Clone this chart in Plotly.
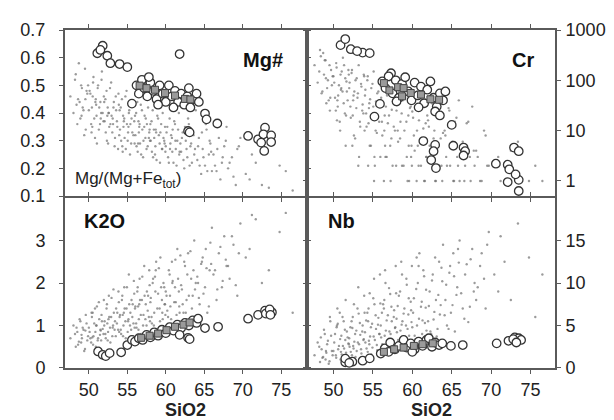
import plotly.graph_objects as go

# ---------------- background data, set 1 (SiO2 shared, one value list per element) ----
bg_sio2 = [48.2, 48.6, 48.9, 49.1, 49.3, 49.5, 49.6, 49.8, 48.4, 49.9,
           50.1, 50.3, 50.4, 50.6, 50.8, 50.9, 51.0, 51.2, 51.3, 51.5, 51.6, 51.7, 51.9, 50.5,
           52.0, 52.2, 52.3, 52.5, 52.6, 52.8, 52.9, 53.1, 53.2, 53.4, 53.5, 53.7, 53.8, 53.9, 52.4,
           54.0, 54.2, 54.3, 54.5, 54.6, 54.8, 54.9, 55.1, 55.2, 55.4, 55.5, 55.7, 55.8, 55.9, 54.4,
           56.0, 56.2, 56.3, 56.5, 56.6, 56.8, 56.9, 57.1, 57.2, 57.4, 57.5, 57.7, 57.8, 57.9, 56.4,
           58.0, 58.2, 58.3, 58.5, 58.7, 58.8, 59.0, 59.2, 59.3, 59.5, 59.6, 59.8, 59.9, 58.6,
           60.1, 60.3, 60.5, 60.6, 60.8, 61.0, 61.2, 61.3, 61.5, 61.7, 61.8, 60.9,
           62.1, 62.3, 62.5, 62.7, 62.9, 63.1, 63.3, 63.5, 63.7, 63.9,
           64.2, 64.4, 64.7, 64.9, 65.2, 65.4, 65.7, 65.9,
           66.2, 66.6, 66.9, 67.3, 67.6, 67.9,
           68.3, 68.8, 69.3, 69.7,
           70.4, 71.2, 72.5, 74.8]

bg_mg = [0.52, 0.45, 0.38, 0.49, 0.41, 0.56, 0.34, 0.47, 0.43, 0.50,
         0.48, 0.36, 0.42, 0.53, 0.31, 0.45, 0.39, 0.50, 0.34, 0.44, 0.40, 0.55, 0.37, 0.46,
         0.44, 0.33, 0.48, 0.29, 0.40, 0.36, 0.51, 0.38, 0.42, 0.31, 0.46, 0.35, 0.27, 0.43, 0.39,
         0.41, 0.30, 0.45, 0.35, 0.38, 0.27, 0.48, 0.33, 0.40, 0.36, 0.29, 0.43, 0.32, 0.37, 0.26,
         0.39, 0.28, 0.44, 0.33, 0.36, 0.25, 0.41, 0.30, 0.35, 0.38, 0.27, 0.42, 0.31, 0.34, 0.29,
         0.36, 0.26, 0.41, 0.31, 0.34, 0.23, 0.38, 0.29, 0.33, 0.27, 0.40, 0.30, 0.35, 0.25,
         0.33, 0.24, 0.38, 0.29, 0.31, 0.22, 0.36, 0.27, 0.30, 0.40, 0.26, 0.34,
         0.31, 0.23, 0.35, 0.27, 0.38, 0.21, 0.29, 0.33, 0.25, 0.41,
         0.28, 0.21, 0.33, 0.24, 0.36, 0.19, 0.30, 0.26,
         0.25, 0.19, 0.31, 0.22, 0.28, 0.35,
         0.22, 0.17, 0.27, 0.31,
         0.18, 0.25, 0.14, 0.21]

bg_cr = [150, 60, 250, 35, 100, 200, 45, 80, 300, 120,
         90, 25, 180, 50, 15, 130, 70, 280, 35, 110, 20, 60, 160, 40,
         70, 18, 140, 40, 8, 100, 28, 55, 200, 12, 85, 33, 22, 120, 5,
         50, 12, 100, 28, 5, 70, 20, 150, 3, 38, 9, 60, 15, 85, 2,
         35, 8, 80, 20, 3, 50, 14, 100, 5, 26, 2, 42, 10, 60, 1,
         25, 6, 60, 15, 2, 40, 10, 80, 3, 20, 1, 30, 5, 45,
         18, 4, 45, 10, 2, 30, 7, 70, 1, 14, 3, 25,
         12, 3, 35, 7, 1, 20, 5, 60, 2, 9,
         8, 2, 25, 5, 1, 15, 3, 40,
         5, 1, 14, 3, 30, 2,
         3, 1, 8, 2,
         2, 1, 4, 1]

bg_k2o = [0.80, 0.55, 1.10, 0.70, 0.90, 0.45, 1.25, 0.65, 0.95, 0.75,
          0.85, 0.60, 1.20, 0.75, 1.40, 0.50, 1.00, 0.70, 1.55, 0.90, 0.65, 1.10, 0.80, 1.30,
          1.00, 0.70, 1.40, 0.85, 1.70, 0.60, 1.20, 0.95, 1.85, 1.10, 0.75, 1.30, 0.90, 1.55, 1.05,
          1.20, 0.80, 1.60, 1.00, 1.90, 0.70, 1.40, 1.10, 2.20, 1.30, 0.90, 1.50, 1.05, 1.75, 1.25,
          1.40, 0.95, 1.80, 1.15, 2.10, 0.80, 1.60, 1.25, 2.40, 1.50, 1.00, 1.70, 1.20, 1.95, 1.45,
          1.55, 1.05, 2.00, 1.30, 2.30, 0.90, 1.75, 1.40, 2.60, 1.60, 1.15, 1.90, 1.50, 2.15,
          1.70, 1.20, 2.20, 1.45, 2.50, 1.00, 1.90, 1.55, 2.80, 1.80, 1.30, 2.05,
          1.85, 1.30, 2.40, 1.60, 2.70, 1.10, 2.10, 1.70, 3.00, 2.00,
          2.00, 1.50, 2.50, 1.75, 2.80, 1.30, 2.30, 2.45,
          2.20, 1.60, 2.70, 1.90, 3.10, 2.40,
          2.10, 2.90, 1.70, 3.40,
          2.60, 3.60, 2.00, 3.20]

bg_nb = [2.5, 1.2, 4.0, 1.8, 3.2, 0.8, 5.5, 2.0, 3.6, 1.5,
         3.0, 1.5, 4.8, 2.2, 6.5, 1.0, 3.8, 2.6, 5.5, 3.3, 1.8, 4.3, 2.9, 7.0,
         3.5, 1.9, 5.5, 2.6, 7.5, 1.3, 4.4, 3.0, 6.4, 3.9, 2.2, 5.0, 3.3, 8.5, 4.7,
         4.2, 2.3, 6.5, 3.2, 8.8, 1.6, 5.2, 3.7, 7.5, 4.6, 2.7, 5.9, 4.0, 11.0, 5.5,
         5.0, 2.8, 7.5, 3.8, 10.0, 2.1, 6.2, 4.3, 8.7, 5.5, 3.2, 6.8, 4.7, 12.0, 7.0,
         5.8, 3.3, 8.5, 4.4, 11.0, 2.6, 7.0, 5.0, 9.8, 6.3, 3.8, 7.8, 5.4, 12.5,
         6.5, 3.8, 9.3, 5.0, 12.0, 3.1, 7.8, 5.6, 10.8, 7.1, 4.4, 13.5,
         7.3, 4.3, 10.3, 5.7, 13.0, 3.7, 8.6, 6.3, 11.8, 14.5,
         8.0, 5.0, 11.2, 6.5, 13.5, 4.3, 9.5, 12.4,
         8.8, 5.8, 12.2, 7.2, 14.0, 10.0,
         9.5, 13.5, 7.0, 16.0,
         11.0, 15.5, 8.0, 13.0]

# ---------------- background data, set 2 ----------------
bg2_sio2 = [47.6, 48.0, 48.3, 48.5, 48.8, 49.0, 49.2, 49.4, 49.7, 49.05, 48.7, 49.55,
            50.0, 50.2, 50.35, 50.55, 50.7, 50.85, 51.05, 51.15, 51.35, 51.45, 51.65, 51.8, 51.95, 50.45, 50.95, 51.55,
            52.05, 52.15, 52.35, 52.45, 52.65, 52.75, 52.95, 53.05, 53.25, 53.35, 53.55, 53.65, 53.85, 53.95, 52.55, 53.15,
            54.05, 54.15, 54.35, 54.45, 54.65, 54.75, 54.95, 55.05, 55.25, 55.35, 55.55, 55.65, 55.85, 55.95, 54.55, 55.15,
            56.05, 56.15, 56.35, 56.45, 56.65, 56.75, 56.95, 57.05, 57.25, 57.35, 57.55, 57.65, 57.85, 57.95, 56.55,
            58.05, 58.15, 58.35, 58.45, 58.65, 58.9, 59.1, 59.25, 59.4, 59.55, 59.7, 59.85, 58.75, 59.95,
            60.0, 60.2, 60.4, 60.7, 60.85, 61.1, 61.25, 61.4, 61.6, 61.75, 61.9, 60.55,
            62.0, 62.2, 62.4, 62.6, 62.8, 63.0, 63.2, 63.4, 63.6, 63.8,
            64.1, 64.3, 64.6, 64.8, 65.1, 65.3, 65.6, 65.8,
            66.4, 66.7, 67.1, 67.4, 67.8, 66.0,
            68.1, 68.6, 69.1, 69.5,
            70.9, 71.7, 73.4, 75.6, 76.5]

bg2_mg = [0.46, 0.40, 0.54, 0.36, 0.44, 0.50, 0.42, 0.32, 0.48, 0.39, 0.58, 0.45,
          0.41, 0.47, 0.33, 0.51, 0.38, 0.44, 0.29, 0.49, 0.42, 0.36, 0.52, 0.40, 0.46, 0.35, 0.43, 0.38,
          0.37, 0.45, 0.30, 0.42, 0.35, 0.49, 0.39, 0.33, 0.44, 0.28, 0.41, 0.37, 0.47, 0.32, 0.40, 0.36,
          0.34, 0.42, 0.28, 0.39, 0.31, 0.46, 0.36, 0.30, 0.41, 0.25, 0.38, 0.33, 0.44, 0.29, 0.37, 0.35,
          0.32, 0.40, 0.26, 0.37, 0.29, 0.43, 0.34, 0.24, 0.39, 0.31, 0.36, 0.28, 0.33, 0.30, 0.35,
          0.30, 0.37, 0.24, 0.34, 0.28, 0.39, 0.32, 0.22, 0.36, 0.27, 0.31, 0.29, 0.33, 0.26,
          0.28, 0.35, 0.22, 0.32, 0.26, 0.37, 0.30, 0.21, 0.34, 0.25, 0.29, 0.27,
          0.26, 0.33, 0.20, 0.30, 0.24, 0.36, 0.28, 0.22, 0.32, 0.27,
          0.23, 0.31, 0.18, 0.27, 0.21, 0.34, 0.25, 0.29,
          0.21, 0.27, 0.16, 0.24, 0.30, 0.19,
          0.20, 0.24, 0.14, 0.28,
          0.16, 0.22, 0.13, 0.19, 0.12]

bg2_cr = [200, 90, 400, 55, 130, 250, 70, 40, 160, 110, 350, 25,
          120, 45, 220, 30, 80, 10, 150, 60, 200, 22, 95, 40, 130, 16, 65, 5,
          90, 30, 160, 20, 60, 7, 110, 45, 3, 15, 75, 25, 130, 10, 50, 2,
          65, 22, 120, 14, 42, 5, 85, 30, 2, 10, 55, 18, 95, 3, 35, 1,
          45, 15, 90, 10, 30, 3, 60, 20, 1, 7, 38, 12, 70, 2, 5,
          32, 10, 70, 7, 22, 2, 45, 15, 1, 5, 28, 3, 55, 2,
          24, 8, 55, 5, 16, 2, 35, 11, 1, 3, 20, 1,
          16, 5, 40, 3, 10, 1, 25, 2, 7, 1,
          10, 3, 28, 2, 6, 1, 18, 2,
          6, 2, 15, 1, 4, 1,
          4, 1, 10, 2,
          3, 1, 6, 2, 1]

bg2_k2o = [0.70, 1.00, 0.50, 0.85, 1.15, 0.60, 0.95, 0.40, 1.05, 0.78, 0.62, 0.88,
           0.95, 0.70, 1.30, 0.55, 1.05, 0.85, 1.45, 0.65, 1.15, 0.78, 1.25, 0.92, 1.60, 0.72, 1.00, 0.88,
           1.10, 0.80, 1.50, 0.65, 1.20, 0.95, 1.65, 0.75, 1.30, 0.90, 1.40, 1.05, 1.80, 0.85, 1.15, 1.00,
           1.25, 0.90, 1.70, 0.75, 1.40, 1.10, 1.90, 0.85, 1.50, 1.00, 1.60, 1.20, 2.05, 0.95, 1.30, 1.15,
           1.45, 1.05, 1.90, 0.90, 1.60, 1.25, 2.15, 1.00, 1.70, 1.15, 1.80, 1.35, 2.30, 1.10, 1.50,
           1.65, 1.20, 2.10, 1.00, 1.80, 1.40, 2.35, 1.10, 1.90, 1.30, 2.00, 1.50, 2.50, 1.25,
           1.80, 1.35, 2.30, 1.15, 2.00, 1.55, 2.55, 1.25, 2.10, 1.45, 2.65, 1.70,
           1.95, 1.50, 2.50, 1.30, 2.20, 1.70, 2.75, 1.40, 2.30, 1.85,
           2.15, 1.65, 2.45, 2.60, 1.90, 2.35, 1.45, 2.95,
           2.30, 1.85, 2.85, 2.05, 2.55, 3.30,
           2.40, 3.10, 1.95, 2.70,
           2.80, 3.50, 2.30, 3.65, 1.30]

bg2_nb = [1.5, 3.0, 0.7, 2.2, 4.5, 1.0, 2.8, 0.5, 3.8, 2.0, 1.3, 6.0,
          2.0, 4.0, 1.2, 5.2, 2.6, 3.4, 1.6, 6.0, 2.3, 4.5, 1.4, 3.6, 2.8, 5.0, 1.9, 8.0,
          2.5, 4.8, 1.5, 6.0, 3.1, 4.0, 2.0, 7.0, 2.8, 5.3, 1.7, 4.3, 3.4, 6.5, 2.3, 9.5,
          3.0, 5.6, 1.9, 7.0, 3.7, 4.8, 2.4, 8.2, 3.3, 6.2, 2.1, 5.1, 4.0, 7.6, 2.8, 10.5,
          3.6, 6.5, 2.4, 8.0, 4.4, 5.6, 3.0, 9.4, 4.0, 7.2, 2.6, 6.0, 4.8, 8.8, 11.5,
          4.2, 7.3, 2.9, 9.0, 5.1, 6.4, 3.5, 10.5, 4.6, 8.2, 3.1, 6.8, 5.5, 12.0,
          4.8, 8.2, 3.4, 10.0, 5.8, 7.2, 4.0, 11.5, 5.3, 9.2, 3.6, 13.0,
          5.5, 9.0, 4.0, 11.0, 6.6, 8.0, 4.6, 12.5, 7.4, 10.2,
          6.2, 9.8, 4.6, 12.0, 7.4, 10.8, 8.6, 14.0,
          7.0, 11.0, 5.4, 12.8, 9.0, 15.0,
          8.0, 12.0, 10.5, 14.5,
          9.0, 12.5, 17.0, 6.0, 11.0]

# ---------------- open circles (per panel) ----------------
mg_circ_x = [51.1, 51.8, 51.5, 52.4, 52.8, 54.0, 55.0, 61.8, 55.6,
             56.2, 56.5, 56.9, 57.2, 57.6, 58.0, 58.4, 58.8, 59.2, 59.6, 60.0, 60.4, 60.8,
             61.2, 61.6, 62.0, 62.4, 62.8, 63.2, 63.6, 64.0, 64.3, 63.0, 57.8, 59.0, 61.0,
             65.1, 65.3, 66.7, 62.9, 63.1,
             70.7, 72.0, 72.9, 72.7, 73.7, 73.7, 72.8, 72.4]
mg_circ_y = [0.616, 0.643, 0.628, 0.607, 0.580, 0.577, 0.566, 0.613, 0.434,
             0.50, 0.47, 0.52, 0.49, 0.46, 0.51, 0.48, 0.45, 0.50, 0.47, 0.44, 0.50, 0.46,
             0.48, 0.44, 0.47, 0.43, 0.46, 0.42, 0.45, 0.47, 0.44, 0.49, 0.53, 0.43, 0.42,
             0.398, 0.377, 0.362, 0.335, 0.330,
             0.317, 0.305, 0.347, 0.323, 0.319, 0.295, 0.263, 0.293]

cr_circ_x = [50.9, 51.5, 52.2, 53.7, 54.6, 53.0,
             55.2, 55.9, 57.3,
             56.2, 56.6, 57.0, 57.5, 57.9, 58.3, 58.7, 59.1, 59.5, 59.9, 60.3, 60.7, 61.1,
             61.5, 61.9, 62.3, 62.7, 63.1, 63.5, 63.9, 64.2, 60.8, 62.9, 63.5, 58.0,
             65.0, 61.4, 62.9, 62.7, 62.4, 63.0, 65.2, 66.5, 66.7, 66.5,
             70.6, 72.1, 72.3, 72.9, 73.5, 72.1, 73.5, 73.5, 73.1]
cr_circ_y = [500, 660, 415, 355, 347, 380,
             19, 34, 138,
             95, 70, 120, 55, 100, 45, 85, 115, 60, 40, 90, 50, 75,
             35, 65, 95, 45, 30, 55, 40, 60, 29, 24, 20, 38,
             13, 6.2, 5.2, 3.9, 2.6, 1.8, 5.0, 4.6, 3.9, 3.2,
             2.2, 2.1, 1.7, 4.6, 3.9, 0.95, 1.05, 0.63, 1.35]

k2o_circ_x = [51.2, 51.8, 52.2, 52.7, 54.2, 55.0, 55.6,
              56.0, 56.5, 57.0, 57.5, 58.0, 58.5, 59.0, 59.5, 60.0, 60.5, 61.0, 61.5,
              62.0, 62.5, 63.0, 63.5, 64.0, 64.2, 62.9, 63.1, 61.8,
              65.1, 66.8,
              70.7, 72.0, 72.9, 73.8, 73.0, 73.5, 73.6]
k2o_circ_y = [0.39, 0.31, 0.28, 0.35, 0.37, 0.54, 0.66,
              0.62, 0.70, 0.66, 0.78, 0.72, 0.84, 0.76, 0.90, 0.82, 0.96, 0.88, 1.02,
              0.94, 1.06, 1.00, 1.12, 1.06, 1.16, 0.71, 0.68, 0.78,
              0.94, 0.97,
              1.16, 1.25, 1.35, 1.31, 1.28, 1.38, 1.25]

nb_circ_x = [51.5, 52.4, 53.7, 54.6, 51.5, 52.0,
             56.0, 56.5, 57.0, 57.2, 57.8, 58.3, 58.9, 59.3, 59.8, 60.3, 60.8, 61.3, 61.8,
             62.1, 62.5, 62.9, 63.4, 63.8, 60.0,
             64.9, 66.4,
             70.7, 72.2, 73.0, 73.5, 72.8, 73.8, 73.2]
nb_circ_y = [0.67, 0.74, 0.86, 1.13, 1.10, 0.60,
             1.7, 2.3, 1.9, 3.0, 2.2, 2.6, 3.3, 2.4, 2.9, 2.2, 3.1, 2.6, 3.3,
             3.5, 2.5, 3.0, 2.7, 2.9, 1.9,
             2.6, 2.7,
             2.9, 3.2, 3.6, 3.5, 3.4, 3.3, 3.0]

# ---------------- grey squares (per panel) ----------------
mg_sq_x = [56.6, 57.5, 58.6, 59.9, 61.2, 62.5, 63.2]
mg_sq_y = [0.499, 0.490, 0.484, 0.472, 0.463, 0.451, 0.449]
cr_sq_x = [56.4, 57.1, 58.2, 58.9, 59.8, 61.1, 62.3, 58.7, 63.4]
cr_sq_y = [88, 63, 73, 70, 56, 52, 42, 48, 41]
k2o_sq_x = [56.8, 57.9, 59.0, 60.1, 61.2, 62.3, 63.1]
k2o_sq_y = [0.71, 0.76, 0.81, 0.89, 0.97, 1.02, 1.07]
nb_sq_x = [56.4, 57.7, 58.9, 60.2, 61.3, 62.6]
nb_sq_y = [1.9, 2.2, 2.4, 2.6, 2.8, 2.9]

panel_names = ["Mg#", "Cr", "K2O", "Nb"]
x_ticks = [50, 55, 60, 65, 70, 75]

# ---------------- figure ----------------
fig = go.Figure()
panels = [
    ("x", "y", bg_mg, bg2_mg, mg_circ_x, mg_circ_y, mg_sq_x, mg_sq_y),
    ("x2", "y2", bg_cr, bg2_cr, cr_circ_x, cr_circ_y, cr_sq_x, cr_sq_y),
    ("x3", "y3", bg_k2o, bg2_k2o, k2o_circ_x, k2o_circ_y, k2o_sq_x, k2o_sq_y),
    ("x4", "y4", bg_nb, bg2_nb, nb_circ_x, nb_circ_y, nb_sq_x, nb_sq_y),
]
for xa, ya, bgv, bgv2, cx, cy, sx, sy in panels:
    fig.add_trace(go.Scatter(x=bg_sio2 + bg2_sio2, y=bgv + bgv2, xaxis=xa, yaxis=ya, mode="markers",
                             marker=dict(size=2.4, color="#707070", opacity=0.7),
                             showlegend=False, hoverinfo="skip"))
    fig.add_trace(go.Scatter(x=cx, y=cy, xaxis=xa, yaxis=ya, mode="markers",
                             marker=dict(size=8.5, color="white", symbol="circle",
                                         line=dict(color="#333333", width=1.3)),
                             showlegend=False))
    fig.add_trace(go.Scatter(x=sx, y=sy, xaxis=xa, yaxis=ya, mode="markers",
                             marker=dict(size=7, color="#9a9a9a", symbol="square",
                                         line=dict(color="#444444", width=1)),
                             showlegend=False))

L, R, T, B = 57, 67, 20, 60
W, H = 614, 420
pw, ph = W - L - R, H - T - B

def px(xp):
    return (xp - L) / pw

def py(yp):
    return (H - B - yp) / ph

dom_left = [0, px(297)]
dom_right = [px(301), 1]
dom_top = [py(187), 1]
dom_bot = [0, py(189)]

FONT = "Liberation Sans, Arial, sans-serif"
font_tick = dict(family=FONT, size=18, color="#222222")
axis_common = dict(showline=True, linewidth=2, linecolor="#5a5a5a", mirror="ticks",
                   ticks="outside", ticklen=4, tickwidth=1, tickcolor="#5a5a5a",
                   showgrid=False, zeroline=False, tickfont=font_tick)

xr = [46.9, 78.1]
fig.update_layout(
    width=W, height=H, margin=dict(l=L, r=R, t=T, b=B),
    paper_bgcolor="white", plot_bgcolor="white",
    xaxis=dict(domain=dom_left, anchor="y", range=xr, tickvals=x_ticks, showticklabels=False, **axis_common),
    xaxis2=dict(domain=dom_right, anchor="y2", range=xr, tickvals=x_ticks, showticklabels=False, **axis_common),
    xaxis3=dict(domain=dom_left, anchor="y3", range=xr, tickvals=x_ticks, **axis_common),
    xaxis4=dict(domain=dom_right, anchor="y4", range=xr, tickvals=x_ticks, **axis_common),
    yaxis=dict(domain=dom_top, anchor="x", range=[0.1, 0.7], tickvals=[0.1, 0.2, 0.3, 0.4, 0.5, 0.6, 0.7],
               tickformat=".1f", ticklabelstandoff=10, **axis_common),
    yaxis2=dict(domain=dom_top, anchor="x2", side="right", type="log", range=[-0.3, 3],
                tickvals=[1, 10, 100, 1000], ticktext=["1", "10", "100", "1000"], ticklabelstandoff=1,
                **axis_common),
    yaxis3=dict(domain=dom_bot, anchor="x3", range=[0, 4], tickvals=[0, 1, 2, 3], ticklabelstandoff=10,
                **axis_common),
    yaxis4=dict(domain=dom_bot, anchor="x4", side="right", range=[0, 20], tickvals=[0, 5, 10, 15],
                ticklabelstandoff=1, **axis_common),
)

bold = dict(family=FONT, size=20, color="#111111")
anns = [
    dict(text="<b>%s</b>" % panel_names[0], x=px(255), y=py(50)),
    dict(text="<b>%s</b>" % panel_names[1], x=px(515), y=py(50)),
    dict(text="<b>%s</b>" % panel_names[2], x=px(96), y=py(212)),
    dict(text="<b>%s</b>" % panel_names[3], x=px(333), y=py(212)),
]
for a in anns:
    fig.add_annotation(xref="paper", yref="paper", showarrow=False, xanchor="center",
                       yanchor="middle", font=bold, **a)
fig.add_annotation(xref="paper", yref="paper", showarrow=False, xanchor="left", yanchor="middle",
                   x=px(65), y=py(171), text="Mg/(Mg+Fe<sub>tot</sub>)",
                   font=dict(family=FONT, size=17, color="#222222"))
for xc in (177, 423):
    fig.add_annotation(xref="paper", yref="paper", showarrow=False, xanchor="center", yanchor="middle",
                       x=px(xc), y=py(402), text="<b>SiO2</b>",
                       font=dict(family=FONT, size=18, color="#222222"))

fig.write_html("out.html")
